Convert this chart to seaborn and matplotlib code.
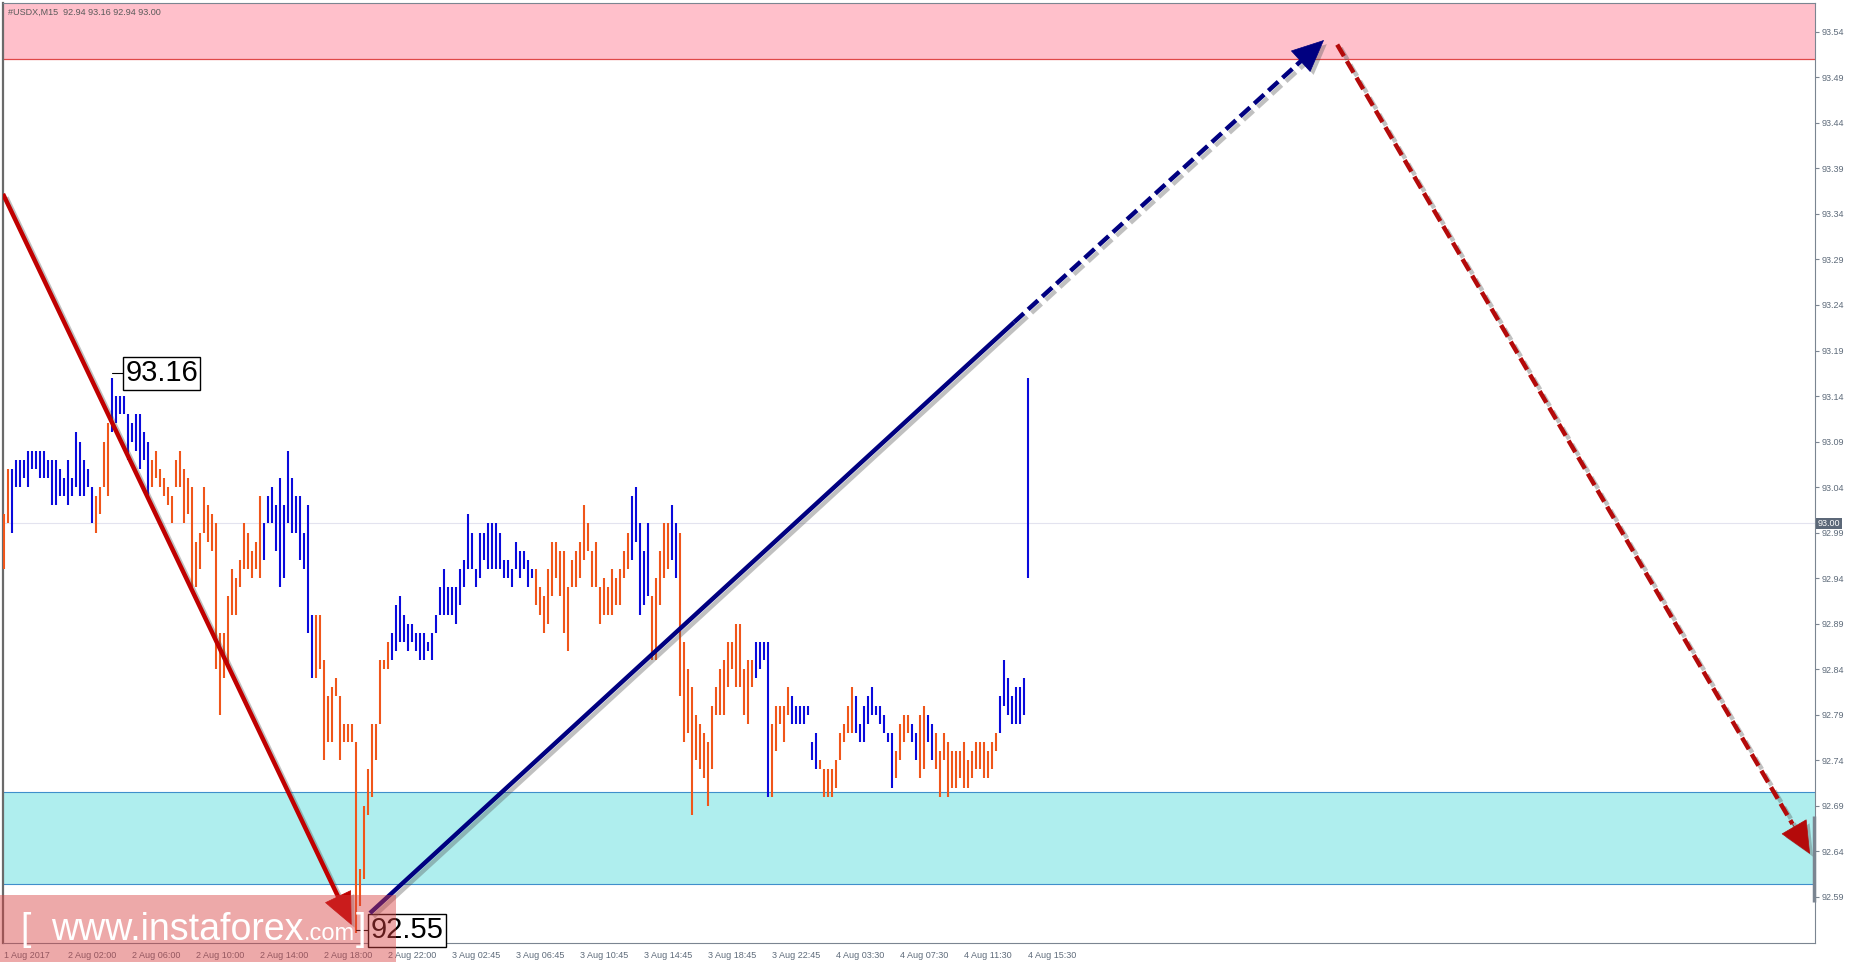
import numpy as np
import pandas as pd
import seaborn as sns
import matplotlib.pyplot as plt
import matplotlib.patheffects as pe
import matplotlib.transforms as mtransforms
from matplotlib.patches import Rectangle

# USDX M15 bars (low / high), bar 0 = first bar on the left
bar_low = [
    92.95, 93.00, 92.99, 93.04, 93.04, 93.05, 93.04, 93.06, 93.06, 93.05,
    93.05, 93.05, 93.02, 93.02, 93.03, 93.03, 93.02, 93.03, 93.04, 93.03,
    93.03, 93.04, 93.00, 92.99, 93.01, 93.04, 93.03, 93.10, 93.11, 93.12,
    93.12, 93.07, 93.09, 93.08, 93.06, 93.07, 93.03, 93.04, 93.05, 93.04,
    93.03, 93.02, 93.00, 93.04, 93.04, 93.00, 93.01, 92.93, 92.93, 92.95,
    92.99, 92.98, 92.97, 92.84, 92.79, 92.83, 92.84, 92.90, 92.90, 92.93,
    92.95, 92.95, 92.94, 92.95, 92.94, 92.96, 93.00, 93.00, 92.97, 92.93,
    92.94, 93.00, 92.99, 92.99, 92.96, 92.95, 92.88, 92.83, 92.83, 92.84,
    92.74, 92.76, 92.76, 92.81, 92.74, 92.76, 92.76, 92.76, 92.55, 92.58,
    92.61, 92.68, 92.70, 92.74, 92.78, 92.84, 92.84, 92.85, 92.86, 92.87,
    92.87, 92.86, 92.87, 92.86, 92.85, 92.85, 92.86, 92.85, 92.88, 92.90,
    92.90, 92.90, 92.90, 92.89, 92.91, 92.93, 92.95, 92.95, 92.93, 92.94,
    92.96, 92.95, 92.95, 92.95, 92.95, 92.94, 92.94, 92.93, 92.95, 92.94,
    92.95, 92.93, 92.94, 92.91, 92.90, 92.88, 92.89, 92.92, 92.94, 92.92,
    92.88, 92.86, 92.93, 92.93, 92.94, 92.96, 92.97, 92.93, 92.93, 92.89,
    92.90, 92.90, 92.90, 92.91, 92.91, 92.94, 92.95, 92.96, 92.98, 92.90,
    92.91, 92.92, 92.85, 92.85, 92.91, 92.94, 92.95, 92.96, 92.94, 92.81,
    92.76, 92.77, 92.68, 92.74, 92.73, 92.72, 92.69, 92.73, 92.79, 92.79,
    92.79, 92.82, 92.84, 92.82, 92.82, 92.79, 92.78, 92.82, 92.83, 92.84,
    92.85, 92.70, 92.70, 92.75, 92.78, 92.76, 92.79, 92.78, 92.78, 92.78,
    92.78, 92.79, 92.74, 92.73, 92.73, 92.70, 92.70, 92.70, 92.71, 92.74,
    92.76, 92.77, 92.77, 92.77, 92.76, 92.76, 92.78, 92.79, 92.79, 92.78,
    92.77, 92.76, 92.71, 92.72, 92.74, 92.76, 92.77, 92.76, 92.74, 92.72,
    92.73, 92.76, 92.74, 92.73, 92.70, 92.74, 92.70, 92.71, 92.71, 92.72,
    92.71, 92.71, 92.72, 92.73, 92.73, 92.72, 92.72, 92.73, 92.75, 92.77,
    92.80, 92.79, 92.78, 92.78, 92.78, 92.79, 92.94,
]
bar_high = [
    93.01, 93.06, 93.06, 93.07, 93.07, 93.07, 93.08, 93.08, 93.08, 93.08,
    93.08, 93.07, 93.07, 93.07, 93.06, 93.05, 93.07, 93.05, 93.10, 93.09,
    93.07, 93.06, 93.04, 93.03, 93.04, 93.09, 93.11, 93.16, 93.14, 93.14,
    93.14, 93.12, 93.11, 93.12, 93.12, 93.10, 93.09, 93.07, 93.08, 93.06,
    93.05, 93.04, 93.03, 93.07, 93.08, 93.06, 93.05, 93.04, 92.98, 92.99,
    93.04, 93.02, 93.01, 93.00, 92.88, 92.88, 92.92, 92.95, 92.94, 92.96,
    93.00, 92.99, 92.97, 92.98, 93.03, 93.00, 93.03, 93.04, 93.02, 93.05,
    93.02, 93.08, 93.05, 93.03, 93.03, 92.99, 93.02, 92.90, 92.90, 92.90,
    92.85, 92.81, 92.82, 92.83, 92.81, 92.78, 92.78, 92.78, 92.76, 92.62,
    92.69, 92.73, 92.78, 92.78, 92.85, 92.85, 92.87, 92.88, 92.91, 92.92,
    92.90, 92.89, 92.89, 92.88, 92.88, 92.88, 92.87, 92.88, 92.90, 92.93,
    92.95, 92.93, 92.93, 92.93, 92.95, 92.96, 93.01, 92.99, 92.95, 92.99,
    92.99, 93.00, 93.00, 93.00, 92.99, 92.96, 92.96, 92.95, 92.98, 92.97,
    92.97, 92.96, 92.95, 92.95, 92.93, 92.92, 92.95, 92.98, 92.98, 92.97,
    92.97, 92.93, 92.96, 92.97, 92.98, 93.02, 93.00, 92.97, 92.98, 92.93,
    92.94, 92.93, 92.95, 92.94, 92.95, 92.97, 92.99, 93.03, 93.04, 93.00,
    92.97, 93.00, 92.92, 92.94, 92.97, 93.00, 93.00, 93.02, 93.00, 92.99,
    92.87, 92.84, 92.82, 92.79, 92.78, 92.77, 92.76, 92.80, 92.82, 92.84,
    92.85, 92.87, 92.87, 92.89, 92.89, 92.84, 92.85, 92.85, 92.87, 92.87,
    92.87, 92.87, 92.78, 92.80, 92.80, 92.80, 92.82, 92.81, 92.80, 92.80,
    92.80, 92.80, 92.76, 92.77, 92.74, 92.73, 92.73, 92.73, 92.74, 92.77,
    92.78, 92.80, 92.82, 92.81, 92.78, 92.80, 92.81, 92.82, 92.80, 92.80,
    92.79, 92.77, 92.77, 92.75, 92.78, 92.79, 92.79, 92.78, 92.77, 92.79,
    92.80, 92.79, 92.78, 92.77, 92.75, 92.77, 92.76, 92.75, 92.75, 92.75,
    92.76, 92.74, 92.75, 92.76, 92.76, 92.76, 92.75, 92.76, 92.77, 92.81,
    92.85, 92.83, 92.81, 92.82, 92.82, 92.83, 93.16,
]
# O = orange bar, B = blue bar
bar_side = (
    "OOBBBBBBBB" "BBBBBBBBBB" "BBBOOOOBBB" "BBBBBBBOOO" "OOOOOOOOOO"
    "OOOOOOOOOO" "OOOOOBBBBB" "BBBBBBBBOO" "OOOOOOOOOO" "OOOOOOOBBB"
    "BBBBBBBBBB" "BBBBBBBBBB" "BBBBBBBBBB" "BBBOOOOOOO" "OOOOOOOOOO"
    "OOOOOOOBBB" "BBOOOOOBBO" "OOOOOOOOOO" "OOOOOOOOBB" "BBOOOOOBBB"
    "BBBBOOOOOO" "OOOBBBBBBB" "BBBOOOOBBO" "OBBOOOOOOO" "OOOOOOOOOB"
    "BBBBBBB"
)

x_label_bars = [0, 16, 32, 48, 64, 80, 96, 112, 128, 144, 160, 176, 192, 208, 224, 240, 256]
x_labels = ["1 Aug 2017", "2 Aug 02:00", "2 Aug 06:00", "2 Aug 10:00", "2 Aug 14:00",
            "2 Aug 18:00", "2 Aug 22:00", "3 Aug 02:45", "3 Aug 06:45", "3 Aug 10:45",
            "3 Aug 14:45", "3 Aug 18:45", "3 Aug 22:45", "4 Aug 03:30", "4 Aug 07:30",
            "4 Aug 11:30", "4 Aug 15:30"]
y_ticks = [92.59, 92.64, 92.69, 92.74, 92.79, 92.84, 92.89, 92.94, 92.99, 93.04,
           93.09, 93.14, 93.19, 93.24, 93.29, 93.34, 93.39, 93.44, 93.49, 93.54]

header = "#USDX,M15  92.94 93.16 92.94 93.00"
last_close = 93.00
swing_high = (27, 93.165, "93.16")
swing_low = (88, 92.553, "92.55")
resistance_zone = (93.51, 93.58)
support_zone = (92.604, 92.705)

# wave markup (bar index, price)
wave_down = [(-0.25, 93.362), (86.9, 92.559)]
wave_up = [(91.5, 92.572), (252.5, 93.221), (330.0, 93.531)]
wave_next = [(333.3, 93.526), (451.5, 92.637)]

ORANGE = "#F0561A"
BLUE = "#0A0ADC"
AXIS_GRAY = "#7B8591"
LABEL_GRAY = "#5E6B7A"

sns.set_style("white")
plt.rcParams["font.family"] = ["Liberation Sans", "DejaVu Sans"]

df = pd.DataFrame({"low": bar_low, "high": bar_high, "side": list(bar_side)})
df["bar"] = np.arange(len(df))

W, H = 1855, 965
fig = plt.figure(figsize=(W / 100, H / 100), dpi=100)
fig.patch.set_facecolor("white")
ax = fig.add_axes([3 / W, 1 - 943 / H, 1812 / W, 940 / H])
ax.set_xlim(-0.25, 452.75)
ax.set_ylim(92.5392, 93.5717)

# zones and close line
ax.axhspan(*resistance_zone, color="#FFC0CB", lw=0, zorder=1)
ax.axhline(resistance_zone[0], color="#E04848", lw=0.9, zorder=1.5)
ax.axhspan(*support_zone, color="#AFEEEE", lw=0, zorder=1)
for lvl in support_zone:
    ax.axhline(lvl, color="#3F8FCB", lw=0.8, zorder=1.5)
ax.axhline(last_close, color="#E3E3EF", lw=0.8, zorder=1.2)

# price bars
ax.vlines(df["bar"], df["low"], df["high"],
          colors=df["side"].map({"O": ORANGE, "B": BLUE}), lw=1.5, zorder=3)

# swing labels
for (b, price, txt), dx in [(swing_high, 3.3), (swing_low, 3.6)]:
    ax.plot([b, b + dx - 0.6], [price, price], color="black", lw=0.8, zorder=4)
    ax.text(b + dx, price, txt, fontsize=21, ha="left", va="center", color="black",
            bbox=dict(boxstyle="square,pad=0.08", fc="white", ec="black", lw=1),
            zorder=5, clip_on=False)

# wave arrows
line_fx = [pe.SimpleLineShadow(offset=(2.5, -2.5), shadow_color="0.3", alpha=0.35), pe.Normal()]
patch_fx = [pe.SimplePatchShadow(offset=(2.5, -2.5), shadow_rgbFace="0.3", alpha=0.35), pe.Normal()]


def head_base(p0, p1, frac):
    return (p1[0] - frac * (p1[0] - p0[0]), p1[1] - frac * (p1[1] - p0[1]))


def arrow_head(base, tip, color):
    ax.annotate("", xy=tip, xytext=base, zorder=7,
                arrowprops=dict(arrowstyle="-|>,head_length=2.2,head_width=1.0",
                                mutation_scale=10, fc=color, ec=color, lw=0.5,
                                shrinkA=0, shrinkB=0, path_effects=patch_fx))


RED = "#C00000"
b = head_base(wave_down[0], wave_down[1], 0.037)
ax.plot([wave_down[0][0], b[0]], [wave_down[0][1], b[1]], color=RED, lw=3.2,
        solid_capstyle="butt", path_effects=line_fx, zorder=6)
arrow_head(b, wave_down[1], RED)

NAVY = "#000080"
ax.plot([wave_up[0][0], wave_up[1][0]], [wave_up[0][1], wave_up[1][1]], color=NAVY, lw=3.2,
        solid_capstyle="butt", path_effects=line_fx, zorder=6)
b = head_base(wave_up[1], wave_up[2], 0.07)
ax.plot([wave_up[1][0], b[0]], [wave_up[1][1], b[1]], color=NAVY, lw=3.2,
        linestyle=(0, (3, 1.3)), dash_capstyle="butt", path_effects=line_fx, zorder=6)
arrow_head(b, wave_up[2], NAVY)

DRED = "#B40A0A"
b = head_base(wave_next[0], wave_next[1], 0.037)
ax.plot([wave_next[0][0], b[0]], [wave_next[0][1], b[1]], color=DRED, lw=3.2,
        linestyle=(0, (3, 1.3)), dash_capstyle="butt", path_effects=line_fx, zorder=6)
arrow_head(b, wave_next[1], DRED)

# axes styling
for s in ax.spines.values():
    s.set_color(AXIS_GRAY)
    s.set_linewidth(0.8)
ax.spines["left"].set_color("#6A6A6A")
ax.spines["left"].set_linewidth(1.6)

ax.yaxis.tick_right()
ax.set_yticks(y_ticks)
ax.set_yticklabels([f"{v:.2f}" for v in y_ticks])
ax.tick_params(axis="y", direction="out", length=3, width=0.8, color=AXIS_GRAY,
               labelsize=6.5, labelcolor=LABEL_GRAY, pad=2)
ax.set_xticks(x_label_bars)
ax.set_xticklabels(x_labels, ha="left")
ax.tick_params(axis="x", direction="out", length=4, width=0.8, color=AXIS_GRAY,
               labelsize=6.5, labelcolor=LABEL_GRAY, pad=2)

trans = mtransforms.blended_transform_factory(ax.transAxes, ax.transData)
ax.text(1.0015, last_close, f"{last_close:.2f}", transform=trans, ha="left", va="center",
        fontsize=6.5, color="white", clip_on=False, zorder=8,
        bbox=dict(boxstyle="square,pad=0.15", fc="#5C6878", ec="none"))
ax.plot([0.9995, 0.9995], [92.584, 92.679], transform=trans, color=AXIS_GRAY, lw=2.5,
        solid_capstyle="butt", clip_on=False, zorder=8)

fig.text(8 / W, 1 - 12 / H, header, fontsize=6.5, color="#5A5A5A", ha="left", va="center")

# watermark
fig.add_artist(Rectangle((0, 1 - 962 / H), 396 / W, 67 / H, transform=fig.transFigure,
                         fc="#D84040", ec="none", alpha=0.45, zorder=5))
base_y = 1 - 940 / H
fig.text(20 / W, base_y, "[", fontsize=27, color="white", va="baseline", zorder=6)
fig.text(51 / W, base_y, "www.instaforex", fontsize=27, color="white", va="baseline", zorder=6)
fig.text(304 / W, base_y, ".com", fontsize=17, color="white", va="baseline", zorder=6)
fig.text(356 / W, base_y, "]", fontsize=27, color="white", va="baseline", zorder=6)

fig.savefig("out.png", dpi=100)
